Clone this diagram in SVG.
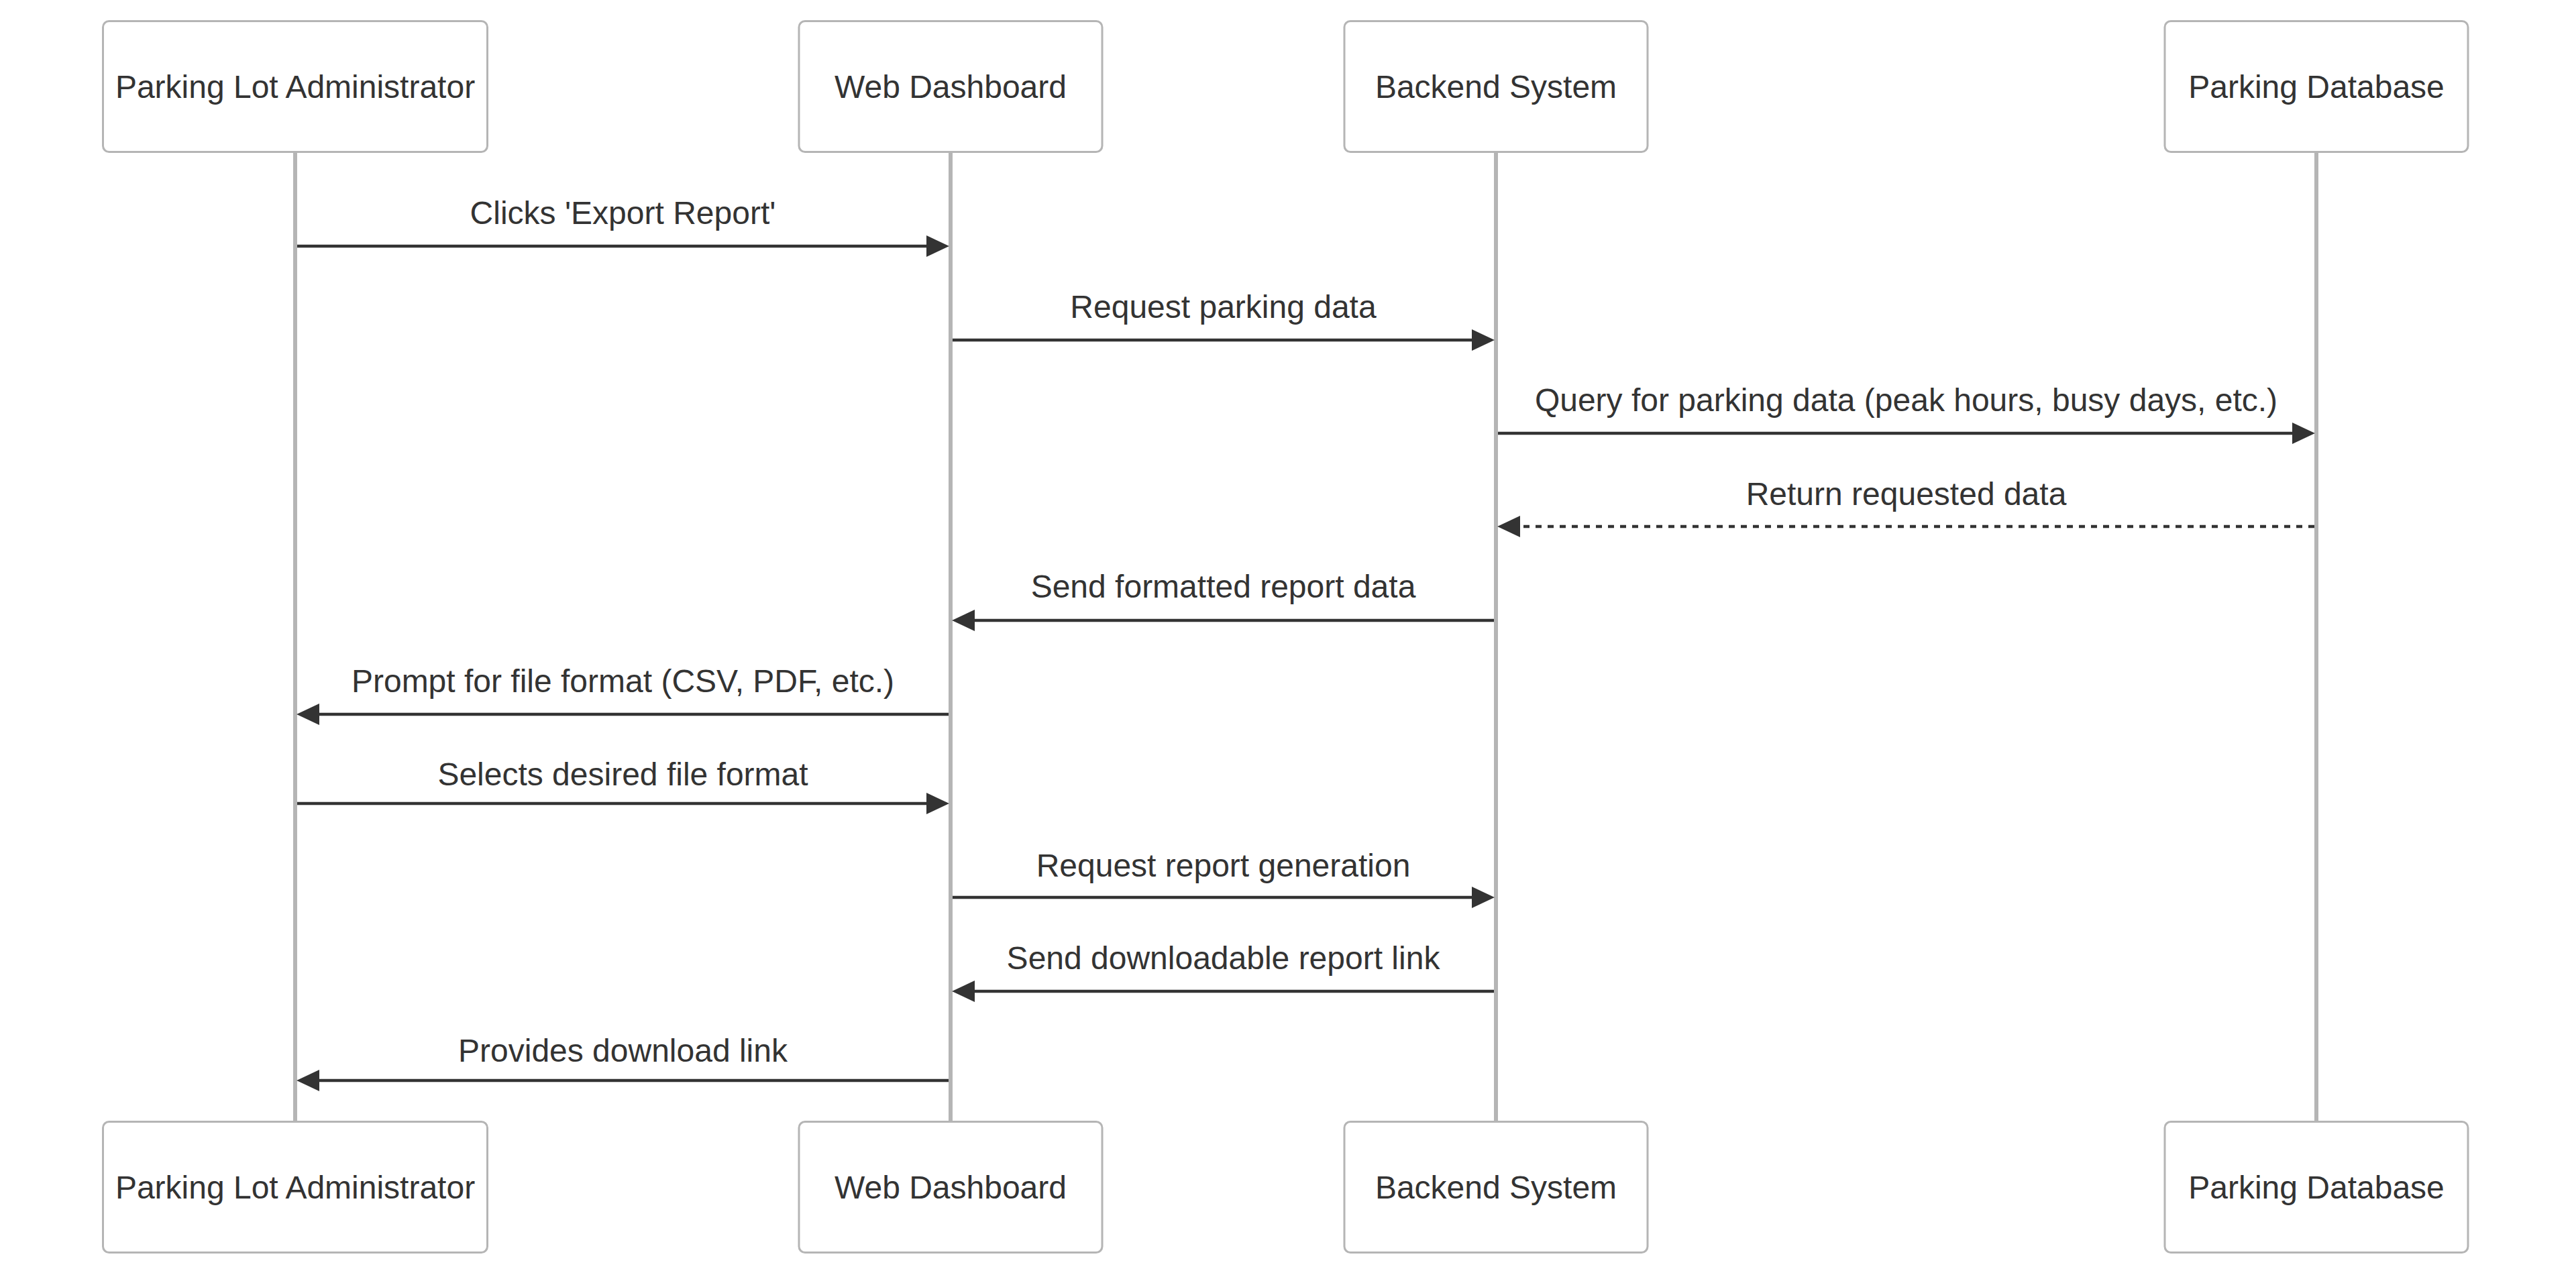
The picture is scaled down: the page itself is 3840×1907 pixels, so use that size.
<svg xmlns="http://www.w3.org/2000/svg" width="3840" height="1907" viewBox="0 0 3840 1907">
<style>
.actor{fill:#ffffff;stroke:#b5b5b5;stroke-width:3}
.lifeline{stroke:#b5b5b5;stroke-width:6}
.atext{font-family:"Liberation Sans",Arial,sans-serif;font-size:48px;fill:#333333;text-anchor:middle;dominant-baseline:central}
.msg{stroke:#333333;stroke-width:4.5;fill:none}
.dashed{stroke-dasharray:9,9}
.mtext{font-family:"Liberation Sans",Arial,sans-serif;font-size:48px;fill:#333333;text-anchor:middle}
</style>
<defs>
<marker id="arrow" markerUnits="userSpaceOnUse" markerWidth="34" markerHeight="32" viewBox="0 0 33 31" refX="3" refY="15.5" orient="auto">
<path d="M0,0 L33,15.5 L0,31 Z" fill="#333333"/>
</marker>
</defs>
<rect width="3840" height="1907" fill="#ffffff"/>
<g id="lifelines">
<line class="lifeline" x1="440" y1="228" x2="440" y2="1671"/>
<line class="lifeline" x1="1417" y1="228" x2="1417" y2="1671"/>
<line class="lifeline" x1="2230" y1="228" x2="2230" y2="1671"/>
<line class="lifeline" x1="3453" y1="228" x2="3453" y2="1671"/>
</g>
<g id="admin-top"><rect class="actor" x="153.5" y="31.5" width="573" height="195" rx="9"/><text class="atext" x="440" y="129">Parking Lot Administrator</text></g>
<g id="web-top"><rect class="actor" x="1191" y="31.5" width="452" height="195" rx="9"/><text class="atext" x="1417" y="129">Web Dashboard</text></g>
<g id="backend-top"><rect class="actor" x="2004" y="31.5" width="452" height="195" rx="9"/><text class="atext" x="2230" y="129">Backend System</text></g>
<g id="db-top"><rect class="actor" x="3227" y="31.5" width="452" height="195" rx="9"/><text class="atext" x="3453" y="129">Parking Database</text></g>
<g id="admin-bottom"><rect class="actor" x="153.5" y="1672.5" width="573" height="195" rx="9"/><text class="atext" x="440" y="1770">Parking Lot Administrator</text></g>
<g id="web-bottom"><rect class="actor" x="1191" y="1672.5" width="452" height="195" rx="9"/><text class="atext" x="1417" y="1770">Web Dashboard</text></g>
<g id="backend-bottom"><rect class="actor" x="2004" y="1672.5" width="452" height="195" rx="9"/><text class="atext" x="2230" y="1770">Backend System</text></g>
<g id="db-bottom"><rect class="actor" x="3227" y="1672.5" width="452" height="195" rx="9"/><text class="atext" x="3453" y="1770">Parking Database</text></g>
<g id="connectors">
<line class="msg" x1="443" y1="367" x2="1384" y2="367" marker-end="url(#arrow)"/>
<line class="msg" x1="1420" y1="507" x2="2197" y2="507" marker-end="url(#arrow)"/>
<line class="msg" x1="2233" y1="646" x2="3420" y2="646" marker-end="url(#arrow)"/>
<line class="msg dashed" x1="3450" y1="785" x2="2263" y2="785" marker-end="url(#arrow)"/>
<line class="msg" x1="2227" y1="925" x2="1450" y2="925" marker-end="url(#arrow)"/>
<line class="msg" x1="1414" y1="1065" x2="473" y2="1065" marker-end="url(#arrow)"/>
<line class="msg" x1="443" y1="1198" x2="1384" y2="1198" marker-end="url(#arrow)"/>
<line class="msg" x1="1420" y1="1338" x2="2197" y2="1338" marker-end="url(#arrow)"/>
<line class="msg" x1="2227" y1="1478" x2="1450" y2="1478" marker-end="url(#arrow)"/>
<line class="msg" x1="1414" y1="1611" x2="473" y2="1611" marker-end="url(#arrow)"/>
</g>
<g id="labels">
<text class="mtext" x="928.5" y="334">Clicks 'Export Report'</text>
<text class="mtext" x="1823.5" y="474">Request parking data</text>
<text class="mtext" x="2841.5" y="613">Query for parking data (peak hours, busy days, etc.)</text>
<text class="mtext" x="2841.5" y="753">Return requested data</text>
<text class="mtext" x="1823.5" y="891">Send formatted report data</text>
<text class="mtext" x="928.5" y="1032">Prompt for file format (CSV, PDF, etc.)</text>
<text class="mtext" x="928.5" y="1171">Selects desired file format</text>
<text class="mtext" x="1823.5" y="1307">Request report generation</text>
<text class="mtext" x="1823.5" y="1445">Send downloadable report link</text>
<text class="mtext" x="928.5" y="1583">Provides download link</text>
</g>
</svg>
